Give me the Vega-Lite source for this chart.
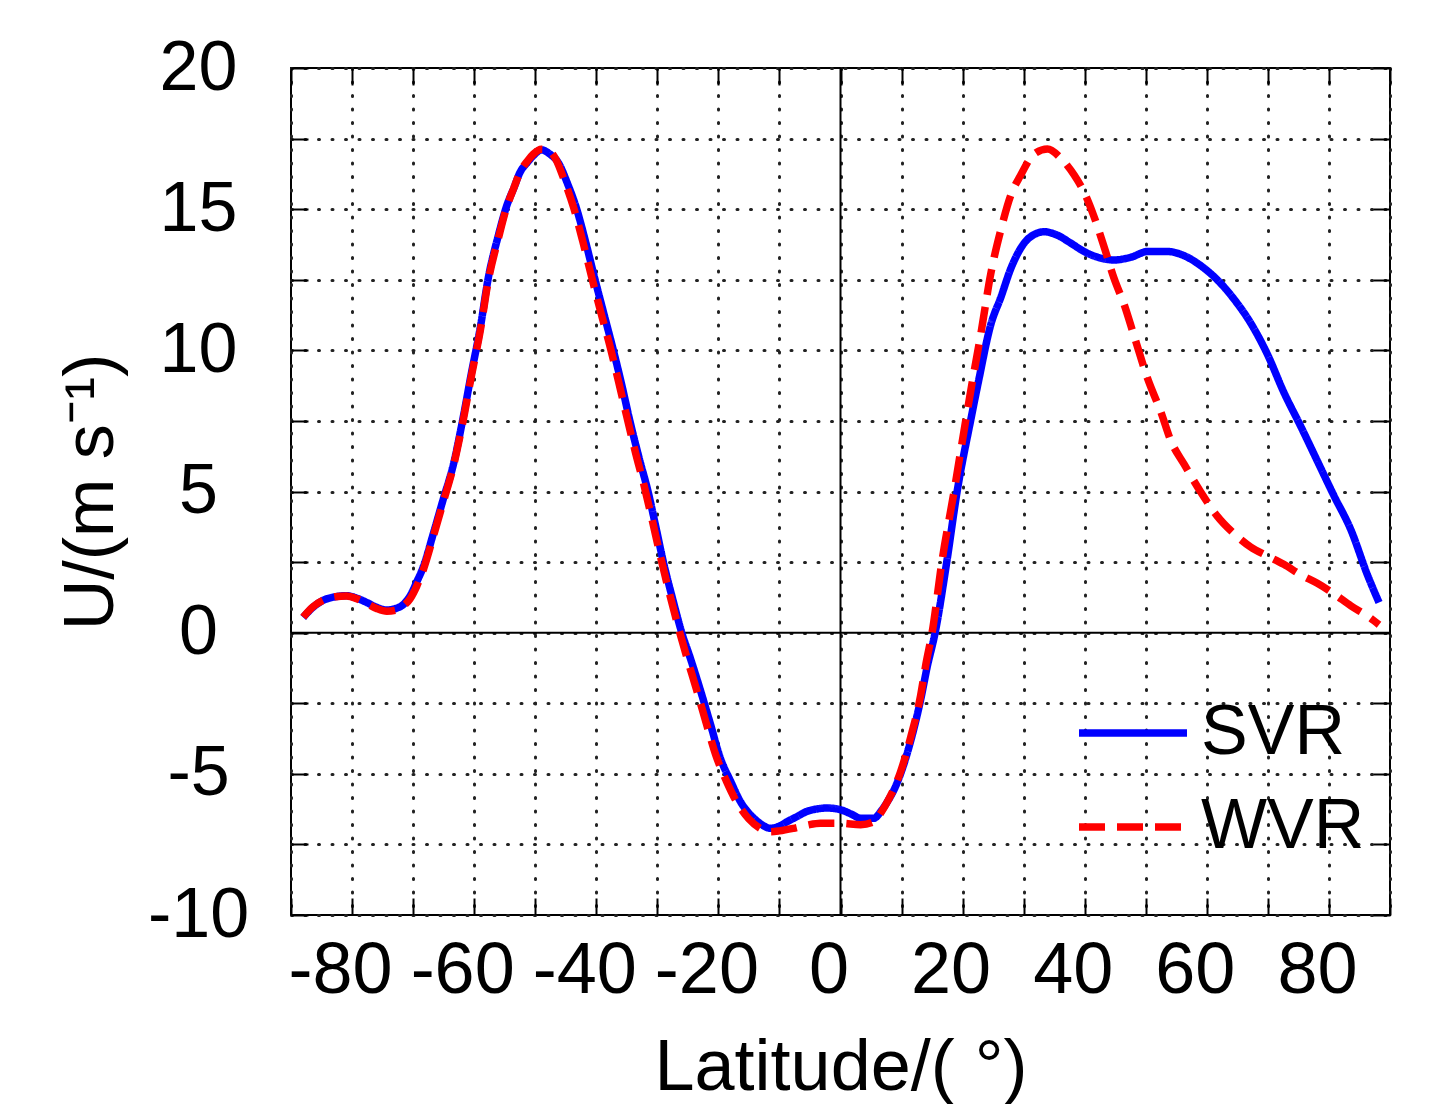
{
  "$schema": "https://vega.github.io/schema/vega-lite/v6.json",
  "autosize": "none",
  "width": 1099,
  "height": 847,
  "padding": {"left": 291, "top": 68, "right": 42, "bottom": 189},
  "background": "white",
  "config": {
    "view": {"stroke": "black", "strokeWidth": 2},
    "font": "Liberation Sans"
  },
  "resolve": {"axis": {"x": "independent", "y": "independent"}},
  "datasets": {
    "curves": [
      {"lat": -88, "u": 0.54, "series": "SVR"}, {"lat": -86.5, "u": 0.88, "series": "SVR"}, {"lat": -84.7, "u": 1.15, "series": "SVR"}, {"lat": -82.8, "u": 1.27, "series": "SVR"}, {"lat": -80.9, "u": 1.31, "series": "SVR"}, {"lat": -79.2, "u": 1.22, "series": "SVR"}, {"lat": -77.6, "u": 1.07, "series": "SVR"}, {"lat": -76, "u": 0.9, "series": "SVR"}, {"lat": -74.3, "u": 0.8, "series": "SVR"}, {"lat": -72.8, "u": 0.86, "series": "SVR"}, {"lat": -71.6, "u": 1.0, "series": "SVR"}, {"lat": -70.5, "u": 1.3, "series": "SVR"}, {"lat": -69.4, "u": 1.8, "series": "SVR"}, {"lat": -68.3, "u": 2.35, "series": "SVR"}, {"lat": -66.7, "u": 3.5, "series": "SVR"}, {"lat": -65.1, "u": 4.7, "series": "SVR"}, {"lat": -63.4, "u": 5.96, "series": "SVR"}, {"lat": -62, "u": 7.4, "series": "SVR"}, {"lat": -60.4, "u": 9.25, "series": "SVR"}, {"lat": -59, "u": 10.8, "series": "SVR"}, {"lat": -57.7, "u": 12.55, "series": "SVR"}, {"lat": -56, "u": 14.1, "series": "SVR"}, {"lat": -54.7, "u": 15.1, "series": "SVR"}, {"lat": -53.5, "u": 15.75, "series": "SVR"}, {"lat": -52.5, "u": 16.3, "series": "SVR"}, {"lat": -51.3, "u": 16.65, "series": "SVR"}, {"lat": -50.3, "u": 16.9, "series": "SVR"}, {"lat": -49, "u": 17.1, "series": "SVR"}, {"lat": -47.6, "u": 16.95, "series": "SVR"}, {"lat": -46.2, "u": 16.64, "series": "SVR"}, {"lat": -44.7, "u": 15.9, "series": "SVR"}, {"lat": -43.2, "u": 15.0, "series": "SVR"}, {"lat": -41.7, "u": 13.8, "series": "SVR"}, {"lat": -40.2, "u": 12.5, "series": "SVR"}, {"lat": -38.7, "u": 11.25, "series": "SVR"}, {"lat": -37.2, "u": 10.0, "series": "SVR"}, {"lat": -35.8, "u": 8.75, "series": "SVR"}, {"lat": -34.5, "u": 7.5, "series": "SVR"}, {"lat": -33, "u": 6.2, "series": "SVR"}, {"lat": -31.5, "u": 4.98, "series": "SVR"}, {"lat": -30.2, "u": 3.7, "series": "SVR"}, {"lat": -29, "u": 2.49, "series": "SVR"}, {"lat": -27.5, "u": 1.2, "series": "SVR"}, {"lat": -26, "u": 0.0, "series": "SVR"}, {"lat": -24.6, "u": -0.9, "series": "SVR"}, {"lat": -23, "u": -2.0, "series": "SVR"}, {"lat": -21.3, "u": -3.24, "series": "SVR"}, {"lat": -19.7, "u": -4.43, "series": "SVR"}, {"lat": -18, "u": -5.26, "series": "SVR"}, {"lat": -16.4, "u": -5.98, "series": "SVR"}, {"lat": -14.2, "u": -6.57, "series": "SVR"}, {"lat": -12.5, "u": -6.85, "series": "SVR"}, {"lat": -11.5, "u": -6.93, "series": "SVR"}, {"lat": -10, "u": -6.85, "series": "SVR"}, {"lat": -8.7, "u": -6.69, "series": "SVR"}, {"lat": -7, "u": -6.5, "series": "SVR"}, {"lat": -5.5, "u": -6.33, "series": "SVR"}, {"lat": -4, "u": -6.25, "series": "SVR"}, {"lat": -2.2, "u": -6.21, "series": "SVR"}, {"lat": 0, "u": -6.27, "series": "SVR"}, {"lat": 1.7, "u": -6.42, "series": "SVR"}, {"lat": 3.3, "u": -6.57, "series": "SVR"}, {"lat": 5.5, "u": -6.57, "series": "SVR"}, {"lat": 6.7, "u": -6.3, "series": "SVR"}, {"lat": 7.7, "u": -5.98, "series": "SVR"}, {"lat": 8.8, "u": -5.55, "series": "SVR"}, {"lat": 9.8, "u": -5.02, "series": "SVR"}, {"lat": 11.5, "u": -3.83, "series": "SVR"}, {"lat": 13.1, "u": -2.4, "series": "SVR"}, {"lat": 14.2, "u": -1.21, "series": "SVR"}, {"lat": 15.5, "u": 0.0, "series": "SVR"}, {"lat": 17.4, "u": 2.5, "series": "SVR"}, {"lat": 19.1, "u": 5.0, "series": "SVR"}, {"lat": 21.3, "u": 7.5, "series": "SVR"}, {"lat": 22.6, "u": 8.9, "series": "SVR"}, {"lat": 24.6, "u": 10.9, "series": "SVR"}, {"lat": 26.3, "u": 11.9, "series": "SVR"}, {"lat": 27.9, "u": 12.9, "series": "SVR"}, {"lat": 30.1, "u": 13.8, "series": "SVR"}, {"lat": 31.7, "u": 14.1, "series": "SVR"}, {"lat": 33.4, "u": 14.2, "series": "SVR"}, {"lat": 35.5, "u": 14.08, "series": "SVR"}, {"lat": 37.7, "u": 13.8, "series": "SVR"}, {"lat": 39.9, "u": 13.5, "series": "SVR"}, {"lat": 42.1, "u": 13.3, "series": "SVR"}, {"lat": 44.8, "u": 13.2, "series": "SVR"}, {"lat": 47.6, "u": 13.3, "series": "SVR"}, {"lat": 50.3, "u": 13.5, "series": "SVR"}, {"lat": 53.6, "u": 13.5, "series": "SVR"}, {"lat": 56.3, "u": 13.35, "series": "SVR"}, {"lat": 59, "u": 13.0, "series": "SVR"}, {"lat": 61.7, "u": 12.5, "series": "SVR"}, {"lat": 64.5, "u": 11.8, "series": "SVR"}, {"lat": 67.2, "u": 10.96, "series": "SVR"}, {"lat": 69.9, "u": 9.87, "series": "SVR"}, {"lat": 72.6, "u": 8.52, "series": "SVR"}, {"lat": 75.4, "u": 7.3, "series": "SVR"}, {"lat": 78.1, "u": 6.08, "series": "SVR"}, {"lat": 80.8, "u": 4.86, "series": "SVR"}, {"lat": 83.6, "u": 3.64, "series": "SVR"}, {"lat": 86.3, "u": 2.05, "series": "SVR"}, {"lat": 88.2, "u": 1.07, "series": "SVR"},
      {"lat": -88, "u": 0.55, "series": "WVR"}, {"lat": -86.5, "u": 0.9, "series": "WVR"}, {"lat": -84.7, "u": 1.15, "series": "WVR"}, {"lat": -82.8, "u": 1.27, "series": "WVR"}, {"lat": -80.9, "u": 1.3, "series": "WVR"}, {"lat": -79.2, "u": 1.2, "series": "WVR"}, {"lat": -77.6, "u": 1.03, "series": "WVR"}, {"lat": -76, "u": 0.86, "series": "WVR"}, {"lat": -74.3, "u": 0.76, "series": "WVR"}, {"lat": -72.8, "u": 0.8, "series": "WVR"}, {"lat": -71.6, "u": 0.95, "series": "WVR"}, {"lat": -70.5, "u": 1.2, "series": "WVR"}, {"lat": -69.4, "u": 1.65, "series": "WVR"}, {"lat": -68.3, "u": 2.25, "series": "WVR"}, {"lat": -66.7, "u": 3.4, "series": "WVR"}, {"lat": -65.1, "u": 4.6, "series": "WVR"}, {"lat": -63.4, "u": 5.9, "series": "WVR"}, {"lat": -62, "u": 7.3, "series": "WVR"}, {"lat": -60.4, "u": 9.15, "series": "WVR"}, {"lat": -59, "u": 10.7, "series": "WVR"}, {"lat": -57.7, "u": 12.45, "series": "WVR"}, {"lat": -56, "u": 14.0, "series": "WVR"}, {"lat": -54.7, "u": 15.05, "series": "WVR"}, {"lat": -53.5, "u": 15.75, "series": "WVR"}, {"lat": -52.5, "u": 16.3, "series": "WVR"}, {"lat": -51.3, "u": 16.7, "series": "WVR"}, {"lat": -50.3, "u": 16.95, "series": "WVR"}, {"lat": -49, "u": 17.12, "series": "WVR"}, {"lat": -48, "u": 17.1, "series": "WVR"}, {"lat": -46.7, "u": 16.8, "series": "WVR"}, {"lat": -45.2, "u": 16.0, "series": "WVR"}, {"lat": -43.7, "u": 15.05, "series": "WVR"}, {"lat": -42.2, "u": 13.85, "series": "WVR"}, {"lat": -40.7, "u": 12.55, "series": "WVR"}, {"lat": -39.2, "u": 11.3, "series": "WVR"}, {"lat": -37.7, "u": 10.1, "series": "WVR"}, {"lat": -36.3, "u": 8.85, "series": "WVR"}, {"lat": -35, "u": 7.65, "series": "WVR"}, {"lat": -33.6, "u": 6.4, "series": "WVR"}, {"lat": -32.1, "u": 5.15, "series": "WVR"}, {"lat": -30.8, "u": 3.95, "series": "WVR"}, {"lat": -29.6, "u": 2.8, "series": "WVR"}, {"lat": -28.2, "u": 1.55, "series": "WVR"}, {"lat": -26.7, "u": 0.3, "series": "WVR"}, {"lat": -25.2, "u": -0.85, "series": "WVR"}, {"lat": -23.6, "u": -2.0, "series": "WVR"}, {"lat": -22, "u": -3.2, "series": "WVR"}, {"lat": -20.4, "u": -4.35, "series": "WVR"}, {"lat": -18.7, "u": -5.25, "series": "WVR"}, {"lat": -17, "u": -6.0, "series": "WVR"}, {"lat": -15, "u": -6.6, "series": "WVR"}, {"lat": -13, "u": -6.95, "series": "WVR"}, {"lat": -11.5, "u": -7.05, "series": "WVR"}, {"lat": -10, "u": -7.02, "series": "WVR"}, {"lat": -7.7, "u": -6.93, "series": "WVR"}, {"lat": -5.5, "u": -6.82, "series": "WVR"}, {"lat": -3.3, "u": -6.75, "series": "WVR"}, {"lat": 0, "u": -6.75, "series": "WVR"}, {"lat": 3.3, "u": -6.8, "series": "WVR"}, {"lat": 5.5, "u": -6.69, "series": "WVR"}, {"lat": 6.7, "u": -6.35, "series": "WVR"}, {"lat": 7.7, "u": -5.98, "series": "WVR"}, {"lat": 8.8, "u": -5.5, "series": "WVR"}, {"lat": 9.8, "u": -4.95, "series": "WVR"}, {"lat": 11.5, "u": -3.7, "series": "WVR"}, {"lat": 13.1, "u": -2.25, "series": "WVR"}, {"lat": 14, "u": -1.1, "series": "WVR"}, {"lat": 15, "u": 0.0, "series": "WVR"}, {"lat": 16.6, "u": 2.5, "series": "WVR"}, {"lat": 18.6, "u": 5.0, "series": "WVR"}, {"lat": 20.5, "u": 7.5, "series": "WVR"}, {"lat": 21.6, "u": 8.9, "series": "WVR"}, {"lat": 23, "u": 10.6, "series": "WVR"}, {"lat": 24.6, "u": 12.7, "series": "WVR"}, {"lat": 26.3, "u": 14.3, "series": "WVR"}, {"lat": 27.9, "u": 15.5, "series": "WVR"}, {"lat": 29.5, "u": 16.2, "series": "WVR"}, {"lat": 31.7, "u": 16.95, "series": "WVR"}, {"lat": 33.9, "u": 17.13, "series": "WVR"}, {"lat": 36.1, "u": 16.8, "series": "WVR"}, {"lat": 38.3, "u": 16.2, "series": "WVR"}, {"lat": 39.9, "u": 15.6, "series": "WVR"}, {"lat": 41.5, "u": 14.75, "series": "WVR"}, {"lat": 43.2, "u": 13.65, "series": "WVR"}, {"lat": 44.8, "u": 12.55, "series": "WVR"}, {"lat": 46.5, "u": 11.6, "series": "WVR"}, {"lat": 48.1, "u": 10.5, "series": "WVR"}, {"lat": 50.3, "u": 9.0, "series": "WVR"}, {"lat": 52.5, "u": 7.8, "series": "WVR"}, {"lat": 54.1, "u": 6.8, "series": "WVR"}, {"lat": 56.3, "u": 5.96, "series": "WVR"}, {"lat": 59, "u": 4.98, "series": "WVR"}, {"lat": 61.7, "u": 4.13, "series": "WVR"}, {"lat": 64.5, "u": 3.5, "series": "WVR"}, {"lat": 67.2, "u": 3.03, "series": "WVR"}, {"lat": 69.9, "u": 2.72, "series": "WVR"}, {"lat": 72.6, "u": 2.42, "series": "WVR"}, {"lat": 75.4, "u": 2.05, "series": "WVR"}, {"lat": 78.1, "u": 1.75, "series": "WVR"}, {"lat": 80.8, "u": 1.38, "series": "WVR"}, {"lat": 83.6, "u": 0.95, "series": "WVR"}, {"lat": 86.3, "u": 0.59, "series": "WVR"}, {"lat": 88.2, "u": 0.28, "series": "WVR"}
    ]
  },
  "layer": [
    {
      "data": {"values": [{}]},
      "mark": {"type": "rule", "color": "black", "strokeWidth": 2},
      "encoding": {"y": {"datum": 0, "type": "quantitative", "scale": {"domain": [-10, 20], "nice": false},
        "axis": {"orient": "right", "title": null, "labels": false, "grid": false, "domain": false,
          "values": [-10, -7.5, -5, -2.5, 0, 2.5, 5, 7.5, 10, 12.5, 15, 17.5, 20],
          "ticks": true, "tickSize": -17, "tickWidth": 2, "tickColor": "black"}}}
    },
    {
      "data": {"values": [{}]},
      "mark": {"type": "rule", "color": "black", "strokeWidth": 2},
      "encoding": {"x": {"datum": 0, "type": "quantitative", "scale": {"domain": [-90, 90], "nice": false},
        "axis": {"orient": "top", "title": null, "labels": false, "grid": false, "domain": false,
          "values": [-90, -80, -70, -60, -50, -40, -30, -20, -10, 0, 10, 20, 30, 40, 50, 60, 70, 80, 90],
          "ticks": true, "tickSize": -17, "tickWidth": 2, "tickColor": "black"}}}
    },
    {
      "data": {"name": "curves"},
      "mark": {"type": "line", "interpolate": "monotone", "strokeWidth": 7.5, "strokeCap": "butt", "strokeJoin": "round"},
      "encoding": {
        "x": {
          "field": "lat", "type": "quantitative",
          "scale": {"domain": [-90, 90], "nice": false, "zero": false},
          "axis": {
            "orient": "bottom",
            "title": "Latitude/( °)",
            "values": [-90, -80, -70, -60, -50, -40, -30, -20, -10, 0, 10, 20, 30, 40, 50, 60, 70, 80, 90],
            "labelExpr": "datum.value % 20 == 0 ? '' + datum.value : ''",
            "labelFont": "Liberation Sans", "labelFontSize": 72, "labelColor": "black",
            "labelPadding": 37, "labelOffset": -12, "labelFlush": false, "labelOverlap": false,
            "titleFont": "Liberation Sans", "titleFontSize": 72, "titleFontWeight": "normal", "titleColor": "black", "titlePadding": 26,
            "domain": false, "ticks": true, "tickSize": -17, "tickWidth": 2, "tickColor": "black",
            "grid": true, "gridColor": "#222222", "gridDash": [1, 12.5], "gridCap": "round", "gridWidth": 3
          }
        },
        "y": {
          "field": "u", "type": "quantitative",
          "scale": {"domain": [-10, 20], "nice": false, "zero": false},
          "axis": {
            "orient": "left",
            "title": "U/(m s⁻¹)",
            "values": [-10, -7.5, -5, -2.5, 0, 2.5, 5, 7.5, 10, 12.5, 15, 17.5, 20],
            "labelExpr": "datum.value % 5 == 0 ? '' + datum.value : ''",
            "labelFont": "Liberation Sans", "labelFontSize": 70, "labelColor": "black",
            "labelAlign": "center", "labelBaseline": "middle",
            "labelPadding": 110, "labelFlush": false, "labelOverlap": false,
            "titleFont": "Liberation Sans", "titleFontSize": 70, "titleFontWeight": "normal", "titleColor": "black", "titlePadding": 20,
            "domain": false, "ticks": true, "tickSize": -17, "tickWidth": 2, "tickColor": "black",
            "grid": true, "gridColor": "#222222", "gridDash": [1, 12.5], "gridCap": "round", "gridWidth": 3
          }
        },
        "color": {
          "field": "series", "type": "nominal",
          "scale": {"domain": ["SVR", "WVR"], "range": ["#0000ff", "#ff0000"]},
          "legend": {
            "title": null, "orient": "none", "legendX": 784, "legendY": 607,
            "symbolType": "stroke", "symbolSize": 11664, "symbolStrokeWidth": 7.5,
            "labelFont": "Liberation Sans", "labelFontSize": 70, "labelColor": "black",
            "labelOffset": 10, "rowPadding": 1, "padding": 0, "labelLimit": 400
          }
        },
        "strokeDash": {
          "field": "series", "type": "nominal",
          "scale": {"domain": ["SVR", "WVR"], "range": [[1, 0], [26, 12]]},
          "legend": {
            "title": null, "orient": "none", "legendX": 784, "legendY": 607,
            "symbolType": "stroke", "symbolSize": 11664, "symbolStrokeWidth": 7.5,
            "labelFont": "Liberation Sans", "labelFontSize": 70, "labelColor": "black",
            "labelOffset": 10, "rowPadding": 1, "padding": 0, "labelLimit": 400
          }
        }
      }
    }
  ]
}
